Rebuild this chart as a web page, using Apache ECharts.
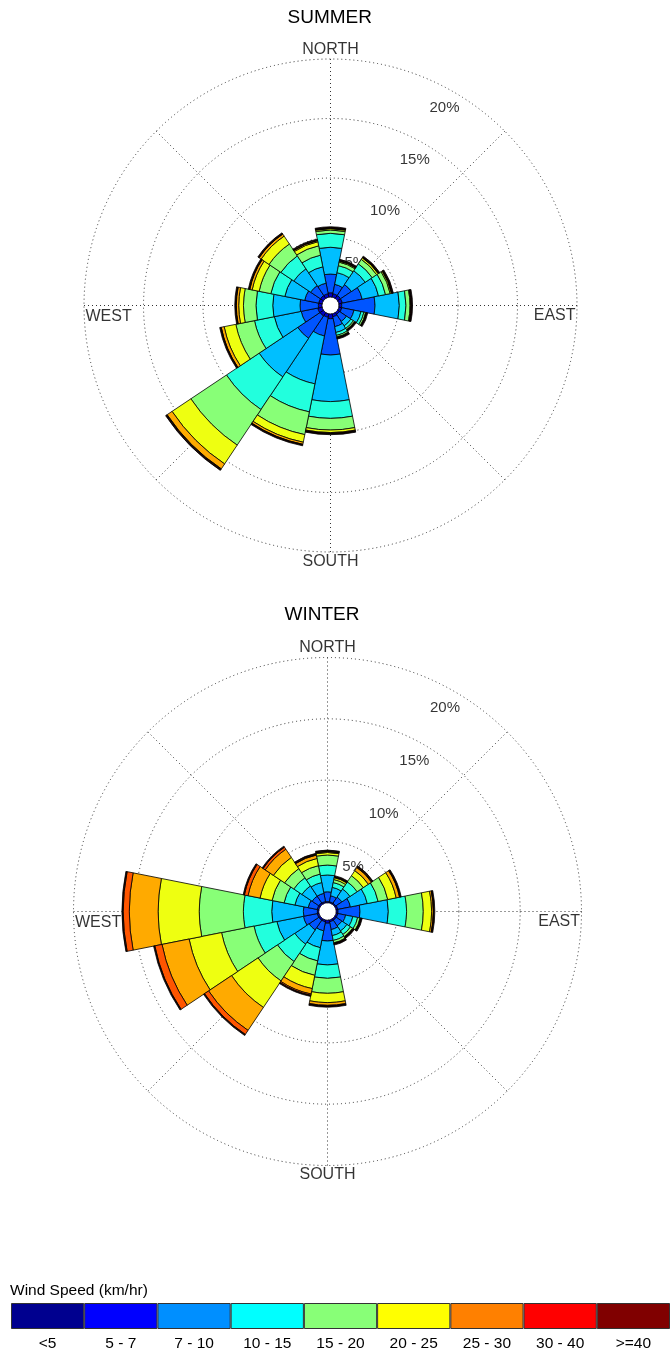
<!DOCTYPE html>
<html><head><meta charset="utf-8">
<script src="https://cdn.jsdelivr.net/npm/echarts@6/dist/echarts.min.js"></script>
<style>html,body{margin:0;padding:0;background:#fff}#c{width:670px;height:1353px}</style>
</head><body><div id="c"></div>
<script>
// ---- data ----
const directions = ['N','NNE','NE','ENE','E','ESE','SE','SSE','S','SSW','SW','WSW','W','WNW','NW','NNW'];
const speedBins = ['<5','5 - 7','7 - 10','10 - 15','15 - 20','20 - 25','25 - 30','30 - 40','>=40'];
const ringTicks = [5, 10, 15, 20];
const compass = ['NORTH', 'EAST', 'SOUTH', 'WEST'];

// summer frequencies (%) per speed bin, by direction N..NNW
const summer_b1 = [0.36,0.30,0.30,0.30,0.23,0.25,0.20,0.25,0.40,0.30,0.35,0.38,0.31,0.30,0.30,0.30];
const summer_b2 = [1.57,0.80,1.10,1.70,2.80,1.05,0.70,0.85,3.05,1.60,2.25,1.42,1.54,1.20,1.00,0.90];
const summer_b3 = [2.25,1.00,1.40,1.40,2.04,0.60,0.45,0.50,3.91,4.10,3.90,2.30,2.29,1.70,1.70,1.40];
const summer_b4 = [1.17,0.60,0.70,0.60,0.56,0.25,0.25,0.25,1.41,2.40,3.30,1.70,1.41,1.20,1.30,1.00];
const summer_b5 = [0.28,0.30,0.45,0.40,0.34,0.15,0.12,0.13,0.98,1.95,3.60,1.60,1.05,1.00,1.20,0.80];
const summer_b6 = [0.11,0.08,0.15,0.10,0.06,0.05,0.04,0.05,0.21,0.65,1.90,1.00,0.40,0.60,0.80,0.35];
const summer_b7 = [0.04,0.04,0.05,0.05,0.03,0.02,0.02,0.03,0.06,0.18,0.50,0.25,0.20,0.20,0.20,0.10];
const summer_b8 = [0.02,0.02,0.02,0.02,0.02,0.01,0.01,0.01,0.02,0.03,0.05,0.03,0.03,0.03,0.03,0.02];
const summer_b9 = [0.10,0.10,0.10,0.10,0.10,0.10,0.10,0.10,0.10,0.10,0.10,0.10,0.10,0.10,0.10,0.10];

// winter frequencies (%) per speed bin, by direction N..NNW
const winter_b1 = [0.10,0.10,0.10,0.15,0.15,0.15,0.15,0.15,0.25,0.15,0.15,0.15,0.12,0.15,0.15,0.12];
const winter_b2 = [0.80,0.50,0.60,1.05,1.79,0.65,0.55,0.65,1.45,0.75,0.95,1.15,1.14,0.75,0.65,0.68];
const winter_b3 = [1.37,0.70,0.80,1.40,2.31,0.60,0.50,0.50,1.95,1.40,1.40,2.20,2.58,1.10,1.00,0.90];
const winter_b4 = [0.81,0.40,0.70,0.90,1.49,0.40,0.35,0.40,1.09,1.10,1.70,1.90,2.31,0.90,0.80,0.70];
const winter_b5 = [0.82,0.25,0.60,0.80,1.36,0.20,0.20,0.20,1.22,1.20,1.90,2.70,3.60,1.00,0.90,0.70];
const winter_b6 = [0.20,0.15,0.50,0.70,0.68,0.05,0.05,0.05,0.76,1.10,2.60,2.70,3.35,1.00,1.10,0.60];
const winter_b7 = [0.08,0.05,0.30,0.28,0.14,0.02,0.02,0.02,0.22,0.45,2.25,2.25,2.35,1.00,0.80,0.28];
const winter_b8 = [0.02,0.02,0.05,0.04,0.02,0.01,0.01,0.01,0.05,0.10,0.40,0.60,0.50,0.30,0.20,0.05];
const winter_b9 = [0.10,0.10,0.10,0.10,0.10,0.10,0.10,0.10,0.10,0.10,0.10,0.10,0.10,0.10,0.10,0.10];

const summerBins = [summer_b1,summer_b2,summer_b3,summer_b4,summer_b5,summer_b6,summer_b7,summer_b8,summer_b9];
const winterBins = [winter_b1,winter_b2,winter_b3,winter_b4,winter_b5,winter_b6,winter_b7,winter_b8,winter_b9];

// ---- styles ----
const FONT = 'Liberation Sans, Arial, sans-serif';
const barColors = ['#0000C8','#0055FF','#00BFFF','#22FFDD','#88FF77','#EEFF11','#FFAA00','#FF5500','#1A0000'];
const legendColors = ['#00008F','#0000FF','#008FFF','#00FFFF','#88FF77','#FFFF00','#FF8000','#FF0000','#800000'];
const dotted = {type:[1,3], color:'#333', width:1};

const roses = [
  {name:'SUMMER', bins:summerBins, center:[330.5,305.5], radius:[8.5,246.5], titleTop:8},
  {name:'WINTER', bins:winterBins, center:[327.5,911.5], radius:[8.7,254], titleTop:605}
];

const polar = [], angleAxis = [], radiusAxis = [], series = [], title = [];
roses.forEach((r, k) => {
  const gi = k*2, bi = k*2+1;
  polar.push({center:r.center, radius:r.radius}, {center:r.center, radius:r.radius});
  angleAxis.push(
    {polarIndex:gi, type:'value', min:0, max:360, interval:45, startAngle:90, clockwise:true,
     axisLine:{show:false}, axisTick:{show:false}, axisLabel:{show:false},
     splitLine:{show:true, lineStyle:dotted}},
    {polarIndex:bi, type:'category', data:directions, startAngle:90+11.25, clockwise:true, boundaryGap:true,
     axisLine:{show:false}, axisTick:{show:false}, axisLabel:{show:false}, splitLine:{show:false}}
  );
  radiusAxis.push(
    {polarIndex:gi, type:'value', min:0, max:20, interval:5,
     axisLine:{show:false}, axisTick:{show:false}, axisLabel:{show:false},
     splitLine:{show:true, lineStyle:dotted}},
    {polarIndex:bi, type:'value', min:0, max:20, interval:5, show:false,
     axisLine:{show:false}, axisTick:{show:false}, axisLabel:{show:false}, splitLine:{show:false}}
  );
  // ring labels (under the bars)
  series.push({
    type:'scatter', coordinateSystem:'polar', polarIndex:gi, symbolSize:1, silent:true, z:1,
    itemStyle:{color:'rgba(0,0,0,0)'},
    data: ringTicks.map(t => ({name:t+'%', value:[t-1.55, 30]})),
    label:{show:true, position:'inside', formatter:'{b}', color:'#000', fontSize:15, fontFamily:FONT}
  });
  r.bins.forEach((arr, i) => {
    series.push({
      type:'bar', coordinateSystem:'polar', polarIndex:bi, stack:r.name, name:speedBins[i],
      data:arr, barCategoryGap:'0%', barGap:'0%', silent:true, z:3,
      itemStyle:{color:barColors[i], borderColor:'#000', borderWidth:0.8}
    });
  });
  // compass labels
  const lab = {show:true, formatter:'{b}', color:'#000', fontSize:16, fontFamily:FONT};
  series.push({
    type:'scatter', coordinateSystem:'polar', polarIndex:gi, symbolSize:1, silent:true, z:5,
    itemStyle:{color:'rgba(0,0,0,0)'},
    data:[
      {name:compass[0], value:[20,0], label:Object.assign({}, lab, {position:'top', distance:1})},
      {name:compass[1], value:[20,90], label:Object.assign({}, lab, {position:'left', distance:1, offset:[0,10]})},
      {name:compass[2], value:[20,180], label:Object.assign({}, lab, {position:'bottom', distance:1})},
      {name:compass[3], value:[20,270], label:Object.assign({}, lab, {position:'right', distance:1, offset:[0,11]})}
    ]
  });
  title.push({text:r.name, left:r.center[0]-43, top:r.titleTop, padding:0,
    textStyle:{fontSize:19, fontWeight:'normal', color:'#000', fontFamily:FONT}});
});
title.push({text:'Wind Speed (km/hr)', left:10, top:1283, padding:0,
  textStyle:{fontSize:15.5, fontWeight:'normal', color:'#000', fontFamily:FONT}});

// legend colour bar as a category bar chart
series.push({
  type:'bar', xAxisIndex:0, yAxisIndex:0, silent:true, barCategoryGap:'0%',
  data: speedBins.map((b,i) => ({value:1, itemStyle:{color:legendColors[i]}})),
  itemStyle:{borderColor:'#333', borderWidth:1}
});

const chart = echarts.init(document.getElementById('c'), null, {renderer:'canvas'});
chart.setOption({
  animation:false,
  backgroundColor:'#fff',
  title, polar, angleAxis, radiusAxis,
  grid:[{left:11, top:1303, width:660, height:26}],
  xAxis:[{type:'category', gridIndex:0, data:speedBins, axisLine:{show:false}, axisTick:{show:false},
    axisLabel:{color:'#000', fontSize:15.5, fontFamily:FONT, margin:7}}],
  yAxis:[{type:'value', gridIndex:0, min:0, max:1, show:false}],
  series
});
</script></body></html>
